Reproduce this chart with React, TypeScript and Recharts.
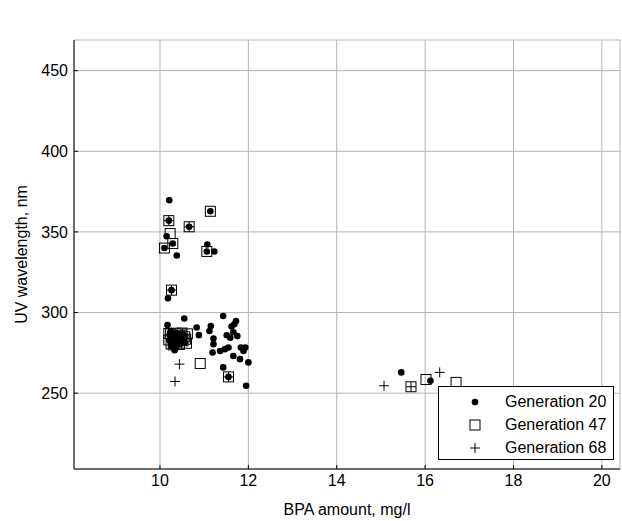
import React from "react";
import {
  ScatterChart,
  Scatter,
  XAxis,
  YAxis,
  CartesianGrid,
  Legend,
  Label,
} from "recharts";

// Figure 8d: UV wavelength vs BPA amount for three generations

const xTicks = [10, 12, 14, 16, 18, 20];
const yTicks = [250, 300, 350, 400, 450];

const gen20 = [
  { x: 10.21, y: 369.6 }, { x: 11.14, y: 362.8 }, { x: 10.2, y: 357 },
  { x: 10.66, y: 353.2 }, { x: 10.15, y: 347.3 }, { x: 10.29, y: 342.8 },
  { x: 10.1, y: 340 }, { x: 10.38, y: 335.4 }, { x: 11.07, y: 342.2 },
  { x: 11.06, y: 337.9 }, { x: 11.23, y: 337.9 }, { x: 10.26, y: 313.9 },
  { x: 10.18, y: 308.8 }, { x: 10.17, y: 292.3 }, { x: 10.55, y: 296.3 },
  { x: 10.83, y: 290.7 }, { x: 10.88, y: 286 }, { x: 11.15, y: 291.7 },
  { x: 11.12, y: 288.6 }, { x: 11.43, y: 297.9 }, { x: 11.72, y: 294.8 },
  { x: 11.68, y: 292.7 }, { x: 11.62, y: 291.3 }, { x: 11.66, y: 287.8 },
  { x: 11.75, y: 285.4 }, { x: 11.59, y: 284.4 }, { x: 11.51, y: 285.9 },
  { x: 11.21, y: 283.9 }, { x: 11.21, y: 280.4 }, { x: 11.19, y: 275.2 },
  { x: 11.36, y: 276.2 }, { x: 11.47, y: 277.3 }, { x: 11.55, y: 278.3 },
  { x: 11.83, y: 278.3 }, { x: 11.93, y: 278.3 }, { x: 11.89, y: 276.2 },
  { x: 11.66, y: 273.1 }, { x: 11.81, y: 271.1 }, { x: 12.0, y: 269.1 },
  { x: 11.43, y: 266 }, { x: 11.55, y: 260.1 }, { x: 11.95, y: 254.6 },
  { x: 10.34, y: 278.3 }, { x: 10.22, y: 286 }, { x: 10.3, y: 283 },
  { x: 10.35, y: 285.5 }, { x: 10.42, y: 282 }, { x: 10.27, y: 281 },
  { x: 10.46, y: 285.5 }, { x: 10.38, y: 279.5 }, { x: 10.33, y: 276.6 },
  { x: 10.25, y: 288.5 }, { x: 10.5, y: 283.5 }, { x: 10.28, y: 284.5 },
  { x: 10.4, y: 287 }, { x: 10.45, y: 280.5 }, { x: 10.36, y: 281.8 },
  { x: 10.31, y: 286.8 }, { x: 10.22, y: 282.5 }, { x: 10.52, y: 286.2 },
  { x: 10.41, y: 284.3 }, { x: 10.26, y: 279.2 }, { x: 10.48, y: 282.8 },
  { x: 10.56, y: 281.5 },
  { x: 15.46, y: 262.9 }, { x: 16.12, y: 257.7 },
];

const gen47 = [
  { x: 11.14, y: 362.8 }, { x: 10.2, y: 357 }, { x: 10.66, y: 353.2 },
  { x: 10.23, y: 349 }, { x: 10.29, y: 342.8 }, { x: 10.1, y: 340 },
  { x: 11.06, y: 337.9 }, { x: 10.26, y: 313.9 }, { x: 10.91, y: 268.4 },
  { x: 11.55, y: 260.1 }, { x: 10.2, y: 287 }, { x: 10.2, y: 283 },
  { x: 10.25, y: 280.5 }, { x: 10.28, y: 285.5 }, { x: 10.32, y: 282 },
  { x: 10.36, y: 287.2 }, { x: 10.4, y: 284 }, { x: 10.44, y: 280.2 },
  { x: 10.48, y: 286 }, { x: 10.52, y: 282.5 }, { x: 10.56, y: 285 },
  { x: 10.6, y: 281 }, { x: 10.62, y: 286.8 }, { x: 10.3, y: 280 },
  { x: 10.38, y: 281 }, { x: 10.5, y: 287.3 }, { x: 10.24, y: 286.8 },
  { x: 10.58, y: 283.5 },
  { x: 15.68, y: 254 }, { x: 16.02, y: 258.5 }, { x: 16.7, y: 256.7 },
];

const gen68 = [
  { x: 10.2, y: 357 }, { x: 10.66, y: 353.2 }, { x: 10.26, y: 313.9 },
  { x: 10.44, y: 268 }, { x: 10.34, y: 257.3 }, { x: 11.55, y: 260.1 },
  { x: 10.3, y: 284 }, { x: 10.45, y: 283 }, { x: 10.55, y: 286 },
  { x: 15.07, y: 254.6 }, { x: 15.68, y: 254 }, { x: 16.33, y: 262.9 },
];

const font = "'Liberation Sans', Arial, sans-serif";
const ink = "#000";

const DotMark = (p: any) => <circle cx={p.cx} cy={p.cy} r={3.3} fill={ink} />;
const SquareMark = (p: any) => (
  <rect x={p.cx - 5} y={p.cy - 5} width={10} height={10} fill="none" stroke={ink} strokeWidth={1} />
);
const PlusMark = (p: any) => (
  <path
    d={`M${p.cx - 5},${p.cy}H${p.cx + 5}M${p.cx},${p.cy - 5}V${p.cy + 5}`}
    stroke={ink}
    strokeWidth={1}
    fill="none"
  />
);

const legendItems = [
  { name: "Generation 20", Mark: DotMark },
  { name: "Generation 47", Mark: SquareMark },
  { name: "Generation 68", Mark: PlusMark },
];

const LegendBox = () => (
  <div
    style={{
      border: "1px solid #000",
      background: "#fff",
      width: 176,
      height: 74,
      boxSizing: "border-box",
      paddingTop: 3,
      fontFamily: font,
      fontSize: 16,
    }}
  >
    {legendItems.map(({ name, Mark }) => (
      <div key={name} style={{ display: "flex", alignItems: "center", height: 23 }}>
        <svg width={14} height={14} style={{ marginLeft: 29, marginRight: 23 }}>
          <Mark cx={7} cy={7} />
        </svg>
        <span>{name}</span>
      </div>
    ))}
  </div>
);

export default function App() {
  const tickStyle = { fill: ink, fontSize: 16, fontFamily: font };
  return (
    <div style={{ position: "absolute", left: 0, top: 0, background: "#fff" }}>
      <ScatterChart width={622} height={521} margin={{ top: 40, right: 2, bottom: 0, left: 0 }}>
        <CartesianGrid stroke="#b4b4b4" strokeWidth={1} />
        <XAxis
          type="number"
          dataKey="x"
          domain={[8.054, 20.41]}
          ticks={xTicks}
          allowDataOverflow
          height={52}
          stroke={ink}
          tick={tickStyle}
          tickSize={-4}
          tickMargin={10}
        >
          <Label
            value="BPA amount, mg/l"
            position="insideBottom"
            offset={6}
            style={{ fill: ink, fontSize: 16, fontFamily: font }}
          />
        </XAxis>
        <XAxis
          xAxisId="top"
          orientation="top"
          type="number"
          domain={[8.054, 20.41]}
          ticks={xTicks}
          allowDataOverflow
          height={0}
          stroke={ink}
          tick={false}
          tickSize={-4}
        >
          <Label
            value="Figure 8d"
            position="top"
            offset={16}
            style={{ fill: ink, fontSize: 16, fontFamily: font }}
          />
        </XAxis>
        <YAxis
          type="number"
          dataKey="y"
          domain={[203, 469]}
          ticks={yTicks}
          allowDataOverflow
          width={74}
          stroke={ink}
          tick={tickStyle}
          tickSize={-4}
          tickMargin={10}
        >
          <Label
            content={(props: any) => {
              const vb = props.viewBox || { x: 0, y: 40, width: 74, height: 429 };
              const cx = vb.x + 21;
              const cy = vb.y + vb.height / 2;
              return (
                <text
                  x={cx}
                  y={cy}
                  transform={`rotate(-90 ${cx} ${cy})`}
                  textAnchor="middle"
                  dominantBaseline="central"
                  style={{ fill: ink, fontSize: 16, fontFamily: font }}
                >
                  UV wavelength, nm
                </text>
              );
            }}
          />
        </YAxis>
        <YAxis
          yAxisId="right"
          orientation="right"
          type="number"
          domain={[203, 469]}
          ticks={yTicks}
          allowDataOverflow
          width={0}
          stroke={ink}
          tick={false}
          tickSize={-4}
        />
        <Scatter name="Generation 20" data={gen20} shape={DotMark} isAnimationActive={false} />
        <Scatter name="Generation 47" data={gen47} shape={SquareMark} isAnimationActive={false} />
        <Scatter name="Generation 68" data={gen68} shape={PlusMark} isAnimationActive={false} />
        <Legend
          layout="vertical"
          align="center"
          verticalAlign="middle"
          content={() => <LegendBox />}
          wrapperStyle={{ left: 438, top: 386, width: 176, height: 74 }}
        />
      </ScatterChart>
    </div>
  );
}
